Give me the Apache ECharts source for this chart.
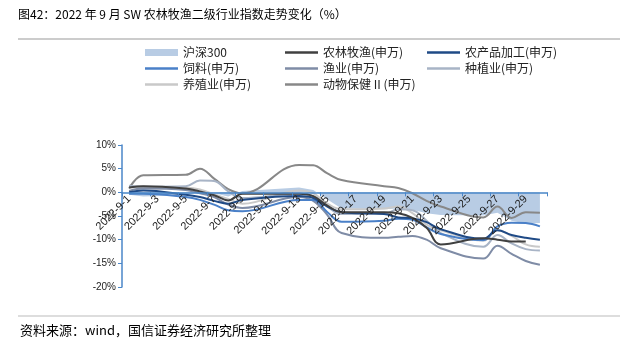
<!DOCTYPE html>
<html>
<head>
<meta charset="utf-8">
<script src="https://cdn.jsdelivr.net/npm/echarts@6/dist/echarts.min.js"></script>
<style>
html,body{margin:0;padding:0;background:#fff;}
#c{width:639px;height:361px;}
</style>
</head>
<body>
<div id="c"></div>
<script>
// Tick labels (calendar days of Sept 2022; non-trading days are null)
const dates = ['2022-9-1','2022-9-2','2022-9-3','2022-9-4','2022-9-5','2022-9-6','2022-9-7','2022-9-8','2022-9-9','2022-9-10',
  '2022-9-11','2022-9-12','2022-9-13','2022-9-14','2022-9-15','2022-9-16','2022-9-17','2022-9-18','2022-9-19','2022-9-20',
  '2022-9-21','2022-9-22','2022-9-23','2022-9-24','2022-9-25','2022-9-26','2022-9-27','2022-9-28','2022-9-29','2022-9-30'];

const hs300 = [-0.5,-0.9,null,null,-0.6,0.1,-0.2,-0.9,0.3,null,null,null,1.0,0.5,-1.5,-3.4,null,null,-3.6,-3.4,-3.7,-4.4,-4.8,null,null,-4.9,-4.3,-6.0,-6.6,-6.5];
const nlmy  = [1.0,1.3,null,null,0.8,0.2,-0.6,-1.7,-0.3,null,null,null,-0.3,-0.8,-2.8,-4.2,null,null,-4.2,-4.4,-5.4,-7.5,-11.0,null,null,-9.7,-10.0,-10.4,-10.4,null];
const ncpjg = [0.0,0.4,null,null,-0.5,-1.0,-1.8,-2.4,-1.6,null,null,null,-0.8,-1.2,-3.0,-4.2,null,null,-4.6,-5.3,-5.5,-6.3,-7.8,null,null,-9.8,-8.0,-9.0,-9.6,-10.0];
const siliao = [-0.3,-0.3,null,null,-1.0,-1.6,-2.6,-3.8,-4.0,null,null,null,-1.6,-1.6,-4.2,-6.2,null,null,-6.0,-5.6,-5.8,-7.4,-8.8,null,null,-10.1,-7.2,-6.4,-6.5,-7.2];
const yuye  = [0.3,0.8,null,null,0.5,-0.2,-1.0,-2.6,-3.3,null,null,null,-1.0,-1.8,-4.8,-8.6,null,null,-9.6,-9.4,-9.2,-10.0,-11.8,null,null,-14.0,-11.3,-13.0,-14.5,-15.3];
const zhongzhi = [1.4,1.2,null,null,1.3,2.5,2.4,0.2,-1.2,null,null,null,-0.3,-0.8,-3.0,-4.6,null,null,-4.6,-3.6,-3.8,-6.0,-8.6,null,null,-11.5,-9.0,-10.8,-12.0,-12.3];
const yangzhi = [1.0,1.2,null,null,1.0,0.6,-0.4,-1.4,-2.4,null,null,null,0.4,-0.2,-2.4,-3.6,null,null,-3.4,-3.0,-4.4,-6.8,-8.0,null,null,-10.2,-8.0,-9.2,-11.0,-11.5];
const dongbao = [0.8,3.6,null,null,3.7,5.0,2.9,0.7,-0.2,null,null,null,5.8,5.7,4.0,2.6,null,null,1.3,0.9,-0.2,-1.8,-3.0,null,null,-5.3,-3.0,-5.4,-4.2,-4.3];

const yMin = -20, yMax = 10, yStep = 5;
const names = ['沪深300','农林牧渔(申万)','农产品加工(申万)','饲料(申万)','渔业(申万)','种植业(申万)','养殖业(申万)','动物保健 II (申万)'];
const colors = ['#b8cce4','#404040','#1f4a86','#4a80c8','#7f8ca6','#a8b4c6','#c9c9c9','#888888'];

const gridTop = 145, gridBottom = 74, H = 361;
const plotH = H - gridTop - gridBottom;
// move the category axis (line, ticks, labels) up to the 0% level
const zeroOffset = -plotH * (0 - yMin) / (yMax - yMin);

const chart = echarts.init(document.getElementById('c'));
const font = '"Noto Sans CJK SC", "Noto Sans", sans-serif';
const lineIcon = 'path://M0,0H33V2.5H0Z';

function lineSeries(i, data) {
  return {
    name: names[i], type: 'line', data: data, smooth: 0.4, connectNulls: true,
    symbol: 'none', lineStyle: {color: colors[i], width: 2}, itemStyle: {color: colors[i]}
  };
}
function legendCol(left, items) {
  return {
    orient: 'vertical', left: left, top: 41, itemWidth: 33, itemHeight: 7, itemGap: 3,
    selectedMode: false,
    textStyle: {fontSize: 12, color: '#222', fontFamily: font, lineHeight: 13},
    data: items.map(i => ({name: names[i], icon: i === 0 ? 'rect' : lineIcon}))
  };
}

chart.setOption({
  animation: false,
  backgroundColor: '#fff',
  legend: [legendCol(140, [0, 3, 6]), legendCol(280, [1, 4, 7]), legendCol(422, [2, 5])],
  grid: {left: 122, right: 92, top: gridTop, bottom: gridBottom},
  xAxis: {
    type: 'category', data: dates, boundaryGap: true, position: 'bottom', offset: zeroOffset,
    axisLine: {onZero: false, lineStyle: {color: '#4a86c8', width: 1.5}},
    axisTick: {show: true, interval: 1, length: 4, lineStyle: {color: '#4a86c8'}},
    axisLabel: {interval: 1, rotate: 45, fontSize: 11, color: '#222', margin: 5, fontFamily: 'Liberation Sans, Arial, sans-serif'},
    splitLine: {show: false}, z: 5
  },
  yAxis: {
    type: 'value', min: yMin, max: yMax, interval: yStep,
    axisLine: {show: true, lineStyle: {color: '#4a86c8', width: 1.5}},
    axisTick: {show: true, length: 4, lineStyle: {color: '#4a86c8'}},
    axisLabel: {formatter: '{value}%', fontSize: 10, color: '#222', margin: 6, fontFamily: 'Liberation Sans, Arial, sans-serif'},
    splitLine: {show: false}
  },
  series: [
    {name: names[0], type: 'line', data: hs300, connectNulls: true, symbol: 'none',
     lineStyle: {width: 0, opacity: 0}, itemStyle: {color: colors[0]}, areaStyle: {color: colors[0], opacity: 1}, z: 1},
    lineSeries(7, dongbao),
    lineSeries(6, yangzhi),
    lineSeries(5, zhongzhi),
    lineSeries(4, yuye),
    lineSeries(3, siliao),
    lineSeries(2, ncpjg),
    lineSeries(1, nlmy)
  ],
  graphic: [
    {type: 'text', left: 18, top: 8, style: {text: '图42：2022 年 9 月 SW 农林牧渔二级行业指数走势变化（%）', font: '12px ' + font, fill: '#000'}},
    {type: 'line', shape: {x1: 18, y1: 39, x2: 620, y2: 39}, style: {stroke: '#999', lineWidth: 1}},
    {type: 'line', shape: {x1: 18, y1: 316, x2: 620, y2: 316}, style: {stroke: '#bbb', lineWidth: 1}},
    {type: 'text', left: 20, top: 324, style: {text: '资料来源：wind，国信证券经济研究所整理', font: '13px ' + font, fill: '#000'}}
  ]
});
</script>
</body>
</html>
